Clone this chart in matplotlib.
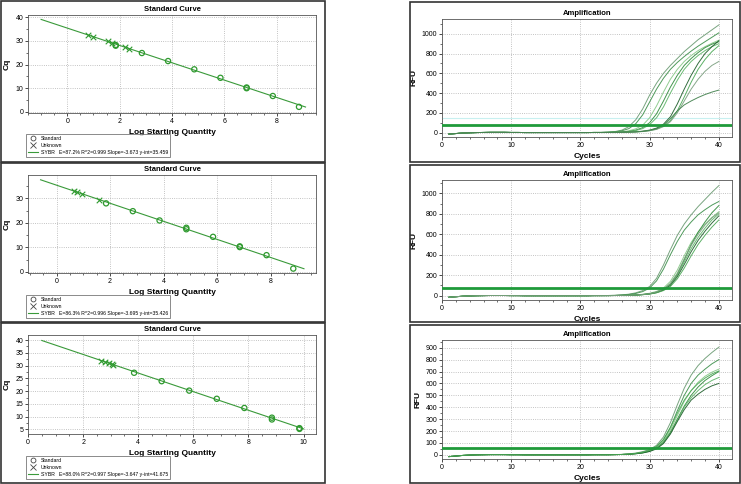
import matplotlib
matplotlib.use("Agg")
import matplotlib.pyplot as plt
from matplotlib.patches import Rectangle
from matplotlib.lines import Line2D
from matplotlib.ticker import AutoMinorLocator, MultipleLocator

plt.rcParams["font.family"] = ["Liberation Sans", "DejaVu Sans"]

W, H = 741, 484

# ---- standard curve data (log starting quantity, Cq) ----
std_x1 = [1.85, 1.85, 2.85, 3.85, 4.85, 5.85, 6.85, 6.85, 7.85, 8.85]
std_cq1 = [28.3, 28.0, 24.9, 21.5, 18.0, 14.4, 10.3, 10.0, 6.7, 2.1]
unk_x1 = [0.8, 1.0, 1.55, 1.7, 2.2, 2.35]
unk_cq1 = [32.5, 31.8, 29.8, 29.2, 27.4, 26.8]

std_x2 = [1.85, 2.85, 3.85, 4.85, 4.85, 5.85, 6.85, 6.85, 7.85, 8.85]
std_cq2 = [28.0, 24.8, 21.0, 18.0, 17.4, 14.3, 10.4, 10.1, 6.8, 1.3]
unk_x2 = [0.65, 0.75, 0.95, 1.6]
unk_cq2 = [33.0, 32.7, 31.9, 29.5]

std_x3 = [3.85, 4.85, 5.85, 6.85, 7.85, 8.85, 8.85, 9.85, 9.85]
std_cq3 = [27.2, 23.9, 20.2, 17.0, 13.4, 9.6, 8.9, 5.5, 5.2]
unk_x3 = [2.65, 2.8, 2.95, 3.05, 3.1]
unk_cq3 = [32.0, 31.5, 30.9, 30.5, 30.4]

slopes = [-3.673, -3.695, -3.647]
intercepts = [35.459, 35.426, 41.675]
line_x = [[-1.0, 9.1], [-0.6, 9.25], [0.5, 10.0]]
fit_labels = [
    "SYBR   E=87.2% R^2=0.999 Slope=-3.673 y-int=35.459",
    "SYBR   E=86.3% R^2=0.996 Slope=-3.695 y-int=35.426",
    "SYBR   E=88.0% R^2=0.997 Slope=-3.647 y-int=41.675",
]

# ---- amplification data ----
cycles = list(range(1, 41))
baseline = [-15, -10, -5, -2, 0, 1, 2, 2, 2, 1, 1, 0, 0, 0, 0, 0, 0, 0, 0, 0, 0, 1, 1]
# values for cycles 24..40
amp1 = [
    [5, 10, 25, 60, 130, 240, 380, 500, 600, 680, 750, 820, 880, 940, 990, 1040, 1090],
    [3, 8, 18, 40, 90, 180, 310, 440, 550, 640, 710, 770, 825, 875, 920, 965, 1010],
    [2, 4, 8, 18, 38, 75, 150, 270, 410, 540, 640, 720, 780, 830, 870, 905, 935],
    [2, 3, 6, 12, 25, 50, 100, 190, 320, 460, 580, 680, 750, 810, 860, 895, 920],
    [2, 3, 5, 10, 20, 40, 80, 150, 260, 400, 530, 640, 720, 780, 830, 870, 900],
    [1, 2, 3, 5, 8, 14, 25, 45, 85, 160, 290, 440, 580, 700, 800, 870, 930],
    [1, 2, 3, 4, 7, 12, 20, 35, 65, 120, 220, 360, 510, 640, 740, 820, 880],
    [1, 2, 3, 4, 6, 10, 18, 32, 60, 110, 200, 320, 440, 540, 620, 680, 720],
    [1, 2, 3, 4, 7, 12, 22, 40, 75, 140, 220, 280, 320, 355, 385, 410, 430],
]
amp2 = [
    [2, 4, 8, 15, 28, 50, 90, 170, 300, 450, 590, 700, 790, 870, 940, 1010, 1075],
    [2, 3, 6, 12, 22, 40, 75, 145, 260, 400, 530, 640, 720, 790, 840, 885, 920],
    [1, 2, 3, 5, 8, 14, 24, 42, 75, 140, 250, 390, 520, 620, 700, 765, 820],
    [1, 2, 3, 4, 7, 12, 20, 35, 62, 115, 210, 350, 500, 620, 720, 810, 880],
    [1, 2, 3, 4, 6, 11, 18, 32, 58, 108, 200, 330, 460, 570, 660, 740, 800],
    [1, 2, 3, 4, 6, 10, 17, 30, 55, 100, 185, 305, 430, 540, 630, 710, 780],
    [1, 2, 3, 4, 6, 10, 16, 28, 50, 90, 165, 270, 390, 500, 590, 670, 740],
    [1, 2, 3, 4, 7, 12, 20, 36, 65, 120, 220, 360, 490, 600, 690, 760, 810],
]
amp3 = [
    [1, 2, 4, 8, 15, 27, 45, 80, 150, 270, 420, 560, 670, 750, 810, 860, 905],
    [1, 2, 3, 6, 12, 22, 38, 68, 125, 230, 370, 500, 600, 670, 720, 765, 800],
    [1, 2, 3, 6, 11, 20, 35, 62, 115, 210, 330, 450, 540, 610, 660, 695, 720],
    [1, 2, 3, 5, 10, 18, 32, 58, 105, 190, 300, 410, 500, 570, 625, 665, 700],
    [1, 2, 3, 5, 9, 16, 30, 55, 100, 180, 290, 400, 480, 540, 590, 625, 650],
    [1, 2, 3, 5, 9, 16, 28, 50, 95, 175, 280, 380, 460, 510, 550, 580, 600],
    [1, 2, 3, 6, 12, 22, 40, 72, 130, 230, 350, 460, 540, 600, 645, 680, 705],
]
thresholds = [80, 75, 55]
curve_colors = ["#6a9a72", "#3c8f4a", "#86c886", "#2f8a3a", "#5cb466",
                "#1d5e2a", "#4aa855", "#7a9e7e", "#3f7f4a"]


def fig_rect(x0, y0, x1, y1):
    # pixel box (top-left origin) -> figure fraction rect
    return [x0 / W, 1 - y1 / H, (x1 - x0) / W, (y1 - y0) / H]


fig = plt.figure(figsize=(W / 100, H / 100), dpi=100)

# panel frames
for (x0, y0, x1, y1) in [(1, 1, 325, 162), (1, 163, 325, 322), (1, 323, 325, 483),
                         (410, 2, 740, 162), (410, 165, 740, 322), (410, 325, 740, 483)]:
    fig.add_artist(Rectangle((x0 / W, 1 - y1 / H), (x1 - x0) / W, (y1 - y0) / H,
                             transform=fig.transFigure, fill=False,
                             edgecolor="#333333", linewidth=1.2))

left_boxes = [(28, 15, 316, 113), (28, 175, 316, 273), (28, 335, 316, 434)]
legend_pos = [(26, 134), (26, 295), (26, 456)]
xlims = [(-1.5, 9.5), (-1.07, 9.7), (0, 10.45)]
ylims = [(-0.5, 41), (-0.5, 39.6), (3.2, 42)]
yticks = [[0, 10, 20, 30, 40], [0, 10, 20, 30], [5, 10, 15, 20, 25, 30, 35, 40]]
std_sets = [(std_x1, std_cq1, unk_x1, unk_cq1),
            (std_x2, std_cq2, unk_x2, unk_cq2),
            (std_x3, std_cq3, unk_x3, unk_cq3)]

green = "#3a9a3a"

for i in range(3):
    ax = fig.add_axes(fig_rect(*left_boxes[i]))
    sx, sc, ux, uc = std_sets[i]
    lx = line_x[i]
    ly = [slopes[i] * v + intercepts[i] for v in lx]
    ax.plot(lx, ly, color=green, linewidth=0.8, zorder=2)
    ax.scatter(sx, sc, s=14, facecolors="none", edgecolors="#2f9a2f", linewidths=0.9, zorder=3)
    ax.scatter(ux, uc, s=16, marker="x", color="#2f9a2f", linewidths=0.8, zorder=3)
    ax.set_xlim(*xlims[i])
    ax.set_ylim(*ylims[i])
    ax.set_yticks(yticks[i])
    ax.xaxis.set_major_locator(MultipleLocator(2))
    ax.xaxis.set_minor_locator(AutoMinorLocator(4))
    ax.yaxis.set_minor_locator(AutoMinorLocator(2))
    ax.grid(True, which="major", linestyle=":", color="#b0b0b0", linewidth=0.6)
    ax.tick_params(labelsize=5, length=2, width=0.5, pad=1.5, direction="out")
    ax.tick_params(which="minor", length=1.2, width=0.4)
    for sp in ax.spines.values():
        sp.set_linewidth(0.6)
        sp.set_color("#555555")
    ax.set_title("Standard Curve", fontsize=5.5, fontweight="bold", pad=3)
    ax.set_xlabel("Log Starting Quantity", fontsize=6, fontweight="bold", labelpad=3)
    ax.set_ylabel("Cq", fontsize=6, fontweight="bold", labelpad=3)

    handles = [
        Line2D([], [], linestyle="none", marker="o", markerfacecolor="none",
               markeredgecolor="#444444", markersize=3.5, markeredgewidth=0.6),
        Line2D([], [], linestyle="none", marker="x", color="#444444",
               markersize=4, markeredgewidth=0.6),
        Line2D([], [], color=green, linewidth=0.8),
    ]
    lp = legend_pos[i]
    leg = ax.legend(handles, ["Standard", "Unknown", fit_labels[i]],
                    loc="upper left", bbox_to_anchor=(lp[0] / W, 1 - lp[1] / H),
                    bbox_transform=fig.transFigure, fontsize=3.7,
                    frameon=True, fancybox=False, edgecolor="#555555",
                    borderpad=0.4, labelspacing=0.35, handlelength=2.0,
                    handletextpad=0.5, borderaxespad=0)
    leg.get_frame().set_linewidth(0.6)

right_boxes = [(442, 19, 732, 137), (442, 180, 732, 300), (442, 340, 732, 459)]
r_ylims = [(-45, 1150), (-42, 1130), (-35, 965)]
r_major = [200, 200, 100]
amps = [amp1, amp2, amp3]

for i in range(3):
    ax = fig.add_axes(fig_rect(*right_boxes[i]))
    for k, tail in enumerate(amps[i]):
        ax.plot(cycles, baseline + tail, color=curve_colors[k % len(curve_colors)],
                linewidth=0.7, alpha=0.9)
    ax.axhline(thresholds[i], color="#1f9a3a", linewidth=2.0, zorder=4)
    if i == 0:
        ax.axhline(145, color="#c8f0f0", linewidth=0.8, zorder=1)
    ax.set_xlim(0, 41.9)
    ax.set_ylim(*r_ylims[i])
    ax.xaxis.set_major_locator(MultipleLocator(10))
    ax.xaxis.set_minor_locator(MultipleLocator(2))
    ax.yaxis.set_major_locator(MultipleLocator(r_major[i]))
    ax.yaxis.set_minor_locator(AutoMinorLocator(2))
    ax.grid(True, which="major", linestyle=":", color="#b0b0b0", linewidth=0.6)
    ax.tick_params(labelsize=5, length=2, width=0.5, pad=1.5, direction="out")
    ax.tick_params(which="minor", length=1.2, width=0.4)
    for sp in ax.spines.values():
        sp.set_linewidth(0.6)
        sp.set_color("#555555")
    ax.set_title("Amplification", fontsize=5.5, fontweight="bold", pad=3)
    ax.set_xlabel("Cycles", fontsize=6, fontweight="bold", labelpad=3)
    ax.set_ylabel("RFU", fontsize=6, fontweight="bold", labelpad=3)

fig.savefig("out.png", dpi=100)
